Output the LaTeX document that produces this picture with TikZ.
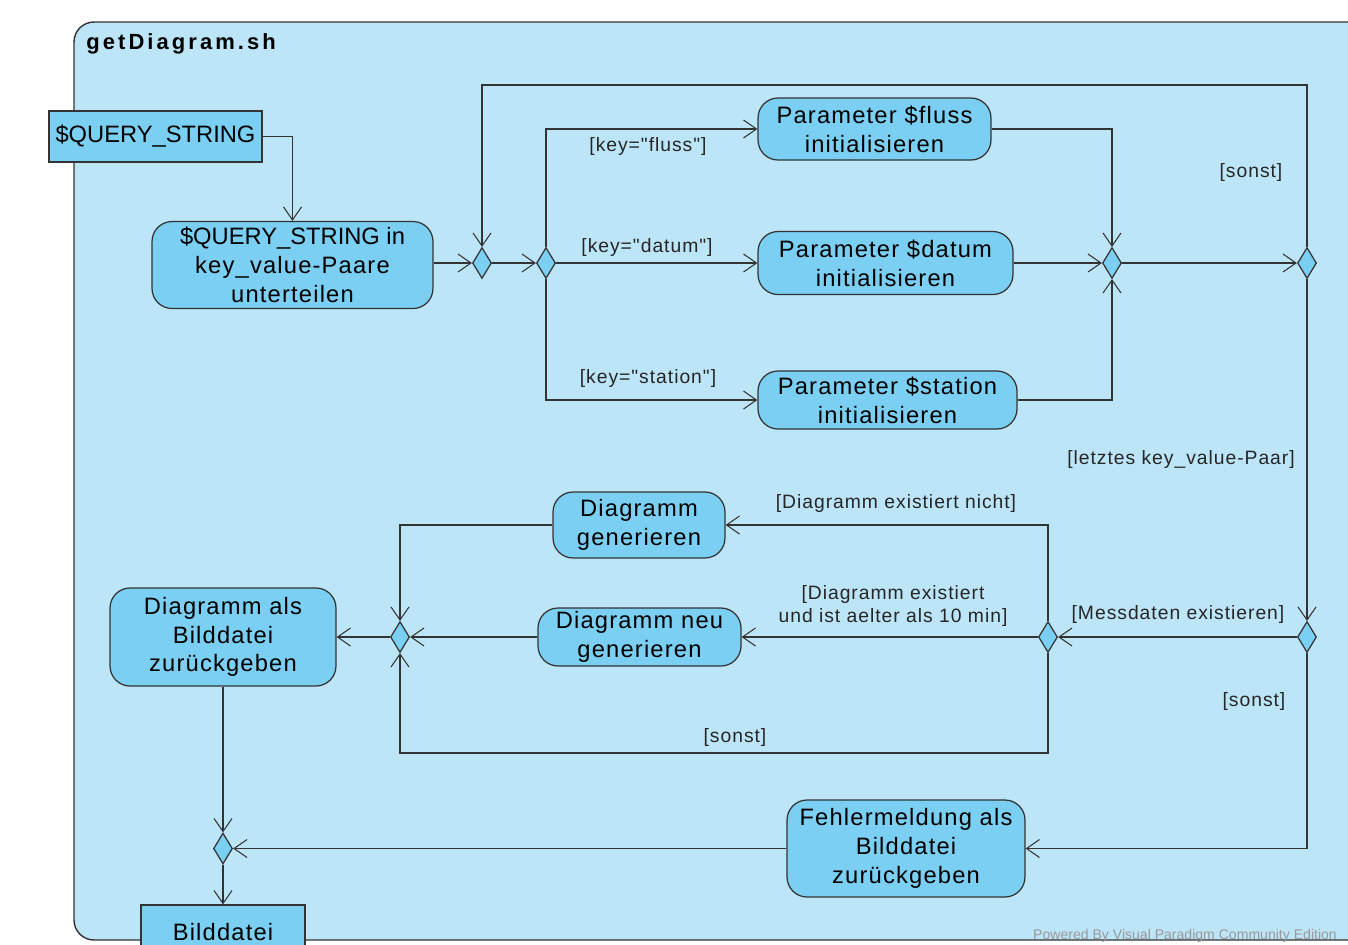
\documentclass[tikz,border=0pt]{standalone}
\usepackage{fontspec}
\setmainfont[LetterSpace=5]{Liberation Sans}
\newfontfamily\plainfont{Liberation Sans}
\newfontfamily\guardfont[LetterSpace=5, Ligatures=TeXOff]{Liberation Sans}
\newfontfamily\titlefont[LetterSpace=14]{Liberation Sans}
\usetikzlibrary{shapes.geometric, arrows.meta, positioning}

\definecolor{framefill}{RGB}{189,229,248}
\definecolor{actfill}{RGB}{122,207,242}
\definecolor{linegray}{RGB}{51,51,51}

\tikzset{
	action/.style={draw=linegray, fill=actfill, rounded corners=0.4cm, align=center, line width=0.7pt, inner sep=2pt, font=\fontsize{13.5}{16.4}\selectfont},
	object/.style={draw=linegray, fill=actfill, align=center, line width=0.7pt, inner sep=2pt, font=\fontsize{13.5}{16.4}\selectfont},
	decide/.style={diamond, draw=linegray, fill=actfill, minimum width=0.38cm, minimum height=0.62cm, inner sep=0pt, line width=0.7pt},
	flow/.style={-{Straight Barb[length=2.6mm,width=3.6mm]}, draw=linegray, line width=0.6pt},
	guard/.style={font=\guardfont\fontsize{11}{13}\selectfont, align=center, text=black!85}
}

\begin{document}
\begin{tikzpicture}[x=0.02cm, y=-0.02cm]
	\useasboundingbox (0,0) rectangle (1348,944);
	\clip (0,0) rectangle (1348,944);
	
	% Draw the frame
	\draw[draw=linegray, fill=framefill, rounded corners=0.4cm, line width=0.8pt] (74,22) rectangle (1420,940);
	\node[anchor=west, inner sep=0pt, font=\titlefont\bfseries\fontsize{12.5}{15}\selectfont] (title) at (86,44) {getDiagram.sh};
	
	% Input and splitting
	\node[object, minimum width=4.26cm, minimum height=1.02cm] (qs) at (155.5,136.5) {\plainfont\$QUERY\_STRING};
	\node[action, minimum width=5.62cm, minimum height=1.74cm] (split) at (292.5,265) {{\plainfont\$QUERY\_STRING in}\\key\_value-Paare\\unterteilen};
	
	% Loop over the key_value pairs
	\node[decide] (m1) at (482,263) {};
	\node[decide] (d2) at (546,263) {};
	\node[action, minimum width=4.66cm, minimum height=1.24cm] (pfluss) at (874.5,129) {Parameter \$fluss\\initialisieren};
	\node[action, minimum width=5.10cm, minimum height=1.26cm] (pdatum) at (885.5,263) {Parameter \$datum\\initialisieren};
	\node[action, minimum width=5.18cm, minimum height=1.16cm] (pstation) at (887.5,400) {Parameter \$station\\initialisieren};
	\node[decide] (m3) at (1112,263) {};
	\node[decide] (d4) at (1307,263) {};
	\coordinate (loop) at (800,85);
	
	% Diagram part
	\node[decide] (d5) at (1307,637) {};
	\node[decide] (d6) at (1048,637) {};
	\node[action, minimum width=3.44cm, minimum height=1.32cm] (dg) at (639,525) {Diagramm\\generieren};
	\node[action, minimum width=4.06cm, minimum height=1.16cm] (dng) at (639.5,637) {Diagramm neu\\generieren};
	\node[decide] (m7) at (400,637) {};
	\node[action, minimum width=4.52cm, minimum height=1.96cm] (dab) at (223,637) {Diagramm als\\Bilddatei\\zurückgeben};
	\node[action, minimum width=4.76cm, minimum height=1.94cm] (fehler) at (906,848.5) {Fehlermeldung als\\Bilddatei\\zurückgeben};
	\node[decide] (m8) at (223,848.5) {};
	\node[object, minimum width=3.28cm, minimum height=1.1cm] (bild) at (223,932.5) {Bilddatei};
	\coordinate (back) at (700,753);
	
	% Draw the arrows
	\draw[flow] (qs.east) -| (split.north);
	\draw[flow] (split.east |- m1) -- (m1.west);
	\draw[flow] (m1) -- (d2.west);
	\draw[flow] (d2.north) |- (pfluss.west);
	\draw[flow] (d2) -- (pdatum.west);
	\draw[flow] (d2.south) |- (pstation.west);
	\draw[flow] (pfluss.east) -| (m3.north);
	\draw[flow] (pdatum) -- (m3.west);
	\draw[flow] (pstation.east) -| (m3.south);
	\draw[flow] (m3) -- (d4.west);
	\draw[flow] (d4.north) |- (loop) -| (m1.north);
	\draw[flow] (d4.south) -- (d5.north);
	\draw[flow] (d5) -- (d6.east);
	\draw[flow] (d5.south) |- (fehler.east);
	\draw[flow] (d6.north) |- (dg.east);
	\draw[flow] (d6) -- (dng.east);
	\draw[flow] (d6.south) |- (back) -| (m7.south);
	\draw[flow] (dg.west) -| (m7.north);
	\draw[flow] (dng) -- (m7.east);
	\draw[flow] (m7) -- (dab.east);
	\draw[flow] (dab) -- (m8.north);
	\draw[flow] (fehler) -- (m8.east);
	\draw[flow] (m8) -- (bild.north);
	
	% Guards
	\node[guard] (gfluss) at (648,146) {[key="fluss"]};
	\node[guard] (gdatum) at (647,247) {[key="datum"]};
	\node[guard] (gstation) at (648,378) {[key="station"]};
	\node[guard] (gsonst1) at (1251,172) {[sonst]};
	\node[guard] (glast) at (1181,459) {[letztes key\_value-Paar]};
	\node[guard] (gmess) at (1178,614) {[Messdaten existieren]};
	\node[guard] (gsonst2) at (1254,701) {[sonst]};
	\node[guard] (gnicht) at (896,503) {[Diagramm existiert nicht]};
	\node[guard] (galt) at (893,606) {[Diagramm existiert\\und ist aelter als 10 min]};
	\node[guard] (gsonst3) at (735,737) {[sonst]};
	
	\node[inner sep=0pt, font=\plainfont\fontsize{8}{9}\selectfont, text=black!40] (mark) at (1185,936) {Powered By Visual Paradigm Community Edition};
\end{tikzpicture}
\end{document}
